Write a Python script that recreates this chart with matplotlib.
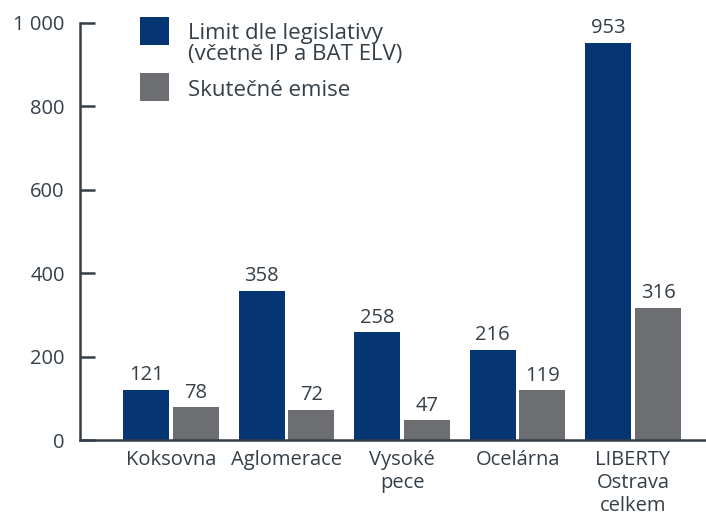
import numpy as np
import matplotlib.pyplot as plt
from matplotlib.patches import Rectangle

categories = ["Koksovna", "Aglomerace", "Vysoké\npece", "Ocelárna", "LIBERTY\nOstrava\ncelkem"]
limit_values = [121, 358, 258, 216, 953]
actual_values = [78, 72, 47, 119, 316]
series_names = ["Limit dle legislativy\n(včetně IP a BAT ELV)", "Skutečné emise"]
yticks = [0, 200, 400, 600, 800, 1000]
ytick_labels = ["0", "200", "400", "600", "800", "1 000"]

blue = "#063573"
gray = "#6d6e71"
ink = "#353f48"

plt.rcParams['font.family'] = ['Open Sans', 'DejaVu Sans']

W, H = 706, 516
fig = plt.figure(figsize=(W / 100, H / 100), dpi=100)
ax = fig.add_axes([80 / W, 76 / H, 626 / W, 417 / H])

x = np.arange(len(categories))
w = 0.398
off = 0.216
b1 = ax.bar(x - off, limit_values, w, color=blue)
b2 = ax.bar(x + off, actual_values, w, color=gray)

for bars, vals in ((b1, limit_values), (b2, actual_values)):
    for rect, v in zip(bars, vals):
        ax.annotate(str(v), (rect.get_x() + rect.get_width() / 2, v),
                    xytext=(0, 3.5), textcoords="offset points",
                    ha="center", va="bottom", fontsize=14.5, color=ink)

ax.set_xlim(-0.788, 4.632)
ax.set_ylim(0, 1000)
ax.set_yticks(yticks)
ax.set_yticklabels(ytick_labels)
ax.set_xticks(x)
ax.set_xticklabels(categories, linespacing=1.2)

for s in ("top", "right"):
    ax.spines[s].set_visible(False)
for s in ("left", "bottom"):
    ax.spines[s].set_color(ink)
    ax.spines[s].set_linewidth(1.8)

ax.tick_params(axis="y", direction="in", length=11, width=1.8, color=ink,
               labelsize=14.5, labelcolor=ink, pad=11)
ax.tick_params(axis="x", length=0, labelsize=14.5, labelcolor=ink, pad=7)

# legend drawn by hand (pixel positions of the reference)
for (top, color, name, text_y) in ((17, blue, series_names[0], 44),
                                   (73, gray, series_names[1], 90)):
    fig.add_artist(Rectangle((140 / W, (H - top - 28) / H), 29 / W, 28 / H,
                             transform=fig.transFigure, color=color, lw=0))
    fig.text(188 / W, (H - text_y) / H, name, fontsize=16, color=ink,
             va="center", ha="left", linespacing=0.95)

fig.savefig("out.png", dpi=100)
